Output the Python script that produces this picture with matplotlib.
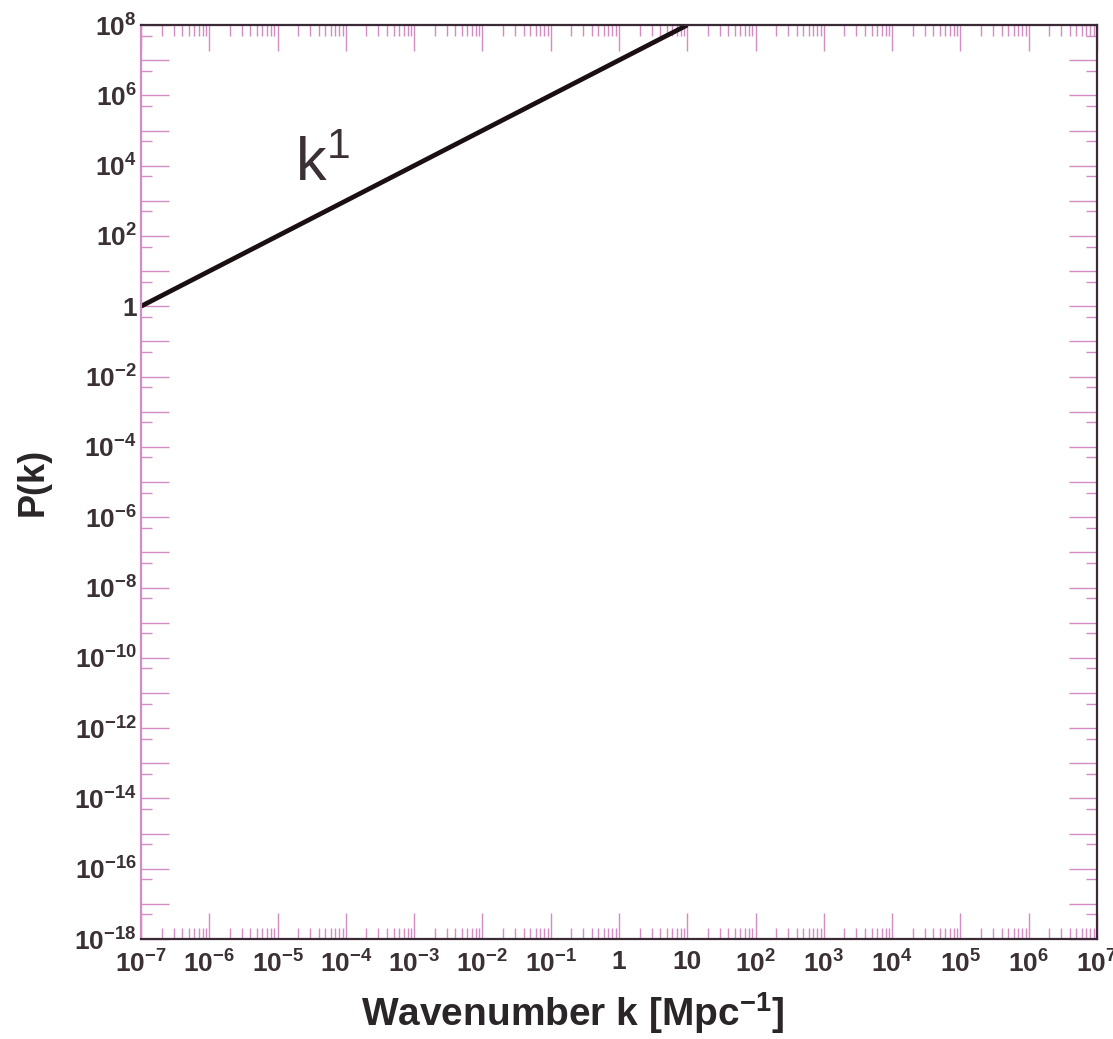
import matplotlib
matplotlib.use('Agg')
import matplotlib.pyplot as plt
from matplotlib.ticker import FixedLocator, NullFormatter

plt.rcParams['font.family'] = 'Liberation Sans'
plt.rcParams['mathtext.fontset'] = 'custom'
plt.rcParams['mathtext.rm'] = 'Liberation Sans:bold'
plt.rcParams['mathtext.it'] = 'Liberation Sans:bold'
plt.rcParams['mathtext.bf'] = 'Liberation Sans:bold'

# power spectrum k^1, from k=1e-7 up to where it leaves the top
k_vals = [1e-7, 1e1]
P_vals = [1.0, 1e8]

x_major = [10.0**e for e in range(-7, 8)]
x_labels = ['$\\mathbf{10^{-7}}$', '$\\mathbf{10^{-6}}$', '$\\mathbf{10^{-5}}$',
            '$\\mathbf{10^{-4}}$', '$\\mathbf{10^{-3}}$', '$\\mathbf{10^{-2}}$',
            '$\\mathbf{10^{-1}}$', '1', '10', '$\\mathbf{10^{2}}$', '$\\mathbf{10^{3}}$',
            '$\\mathbf{10^{4}}$', '$\\mathbf{10^{5}}$', '$\\mathbf{10^{6}}$',
            '$\\mathbf{10^{7}}$']
y_major = [10.0**e for e in range(8, -19, -2)]
y_labels = ['$\\mathbf{10^{8}}$', '$\\mathbf{10^{6}}$', '$\\mathbf{10^{4}}$',
            '$\\mathbf{10^{2}}$', '1', '$\\mathbf{10^{-2}}$', '$\\mathbf{10^{-4}}$',
            '$\\mathbf{10^{-6}}$', '$\\mathbf{10^{-8}}$', '$\\mathbf{10^{-10}}$',
            '$\\mathbf{10^{-12}}$', '$\\mathbf{10^{-14}}$', '$\\mathbf{10^{-16}}$',
            '$\\mathbf{10^{-18}}$']

tick_col = '#d48cc4'
text_col = '#3a3035'

fig = plt.figure(figsize=(11.13, 10.39), dpi=100)
ax = fig.add_axes([0.1267, 0.0962, 0.8589, 0.8797])

ax.plot(k_vals, P_vals, color='#1a1012', lw=3.4, solid_capstyle='butt', clip_on=True)

ax.set_xscale('log')
ax.set_yscale('log')
ax.set_xlim(1e-7, 1e7)
ax.set_ylim(1e-18, 1e8)

ax.xaxis.set_major_locator(FixedLocator(x_major))
ax.set_xticklabels(x_labels)
x_minor = [m * 10.0**e for e in range(-7, 7) for m in range(2, 10)]
ax.xaxis.set_minor_locator(FixedLocator(x_minor))
ax.xaxis.set_minor_formatter(NullFormatter())

ax.yaxis.set_major_locator(FixedLocator(y_major))
ax.set_yticklabels(y_labels)
y_odd = [10.0**e for e in range(-17, 8, 2)]
y_minor = y_odd + [5 * 10.0**e for e in range(-18, 8)]
ax.yaxis.set_minor_locator(FixedLocator(y_minor))
ax.yaxis.set_minor_formatter(NullFormatter())

ax.tick_params(which='both', direction='in', top=True, right=True, color=tick_col, width=1.0)
ax.tick_params(axis='x', which='major', length=19, labelsize=19, pad=8, labelcolor=text_col)
ax.tick_params(axis='x', which='minor', length=8)
ax.tick_params(axis='y', which='major', length=20, labelsize=19, pad=3, labelcolor=text_col)
ax.tick_params(axis='y', which='minor', length=8)
for t in ax.yaxis.get_minor_ticks()[:len(y_odd)]:
    t.tick1line.set_markersize(20)
    t.tick2line.set_markersize(20)
    t.tick1line.set_color('#3a3035')
    t.tick2line.set_color('#3a3035')
for lab in ax.get_xticklabels() + ax.get_yticklabels():
    lab.set_fontweight('bold')

for s in ax.spines.values():
    s.set_color('#3a2a35')
    s.set_linewidth(1.6)
ax.spines['left'].set_color(tick_col)

ax.text(10**-4.75, 1e4, 'k$^{\\mathregular{1}}$', fontsize=44, color='#3a3035',
        va='center', ha='left')

ax.set_xlabel('Wavenumber k [Mpc$^{\\mathbf{-1}}$]', fontsize=28, fontweight='bold',
              color='#2a2528')
ax.xaxis.set_label_coords(0.451, -0.056)
ax.set_ylabel('P(k)', fontsize=26, fontweight='bold', color='#2a2528')
ax.yaxis.set_label_coords(-0.095, 0.5)

fig.savefig('out.png', dpi=100, facecolor='white')
